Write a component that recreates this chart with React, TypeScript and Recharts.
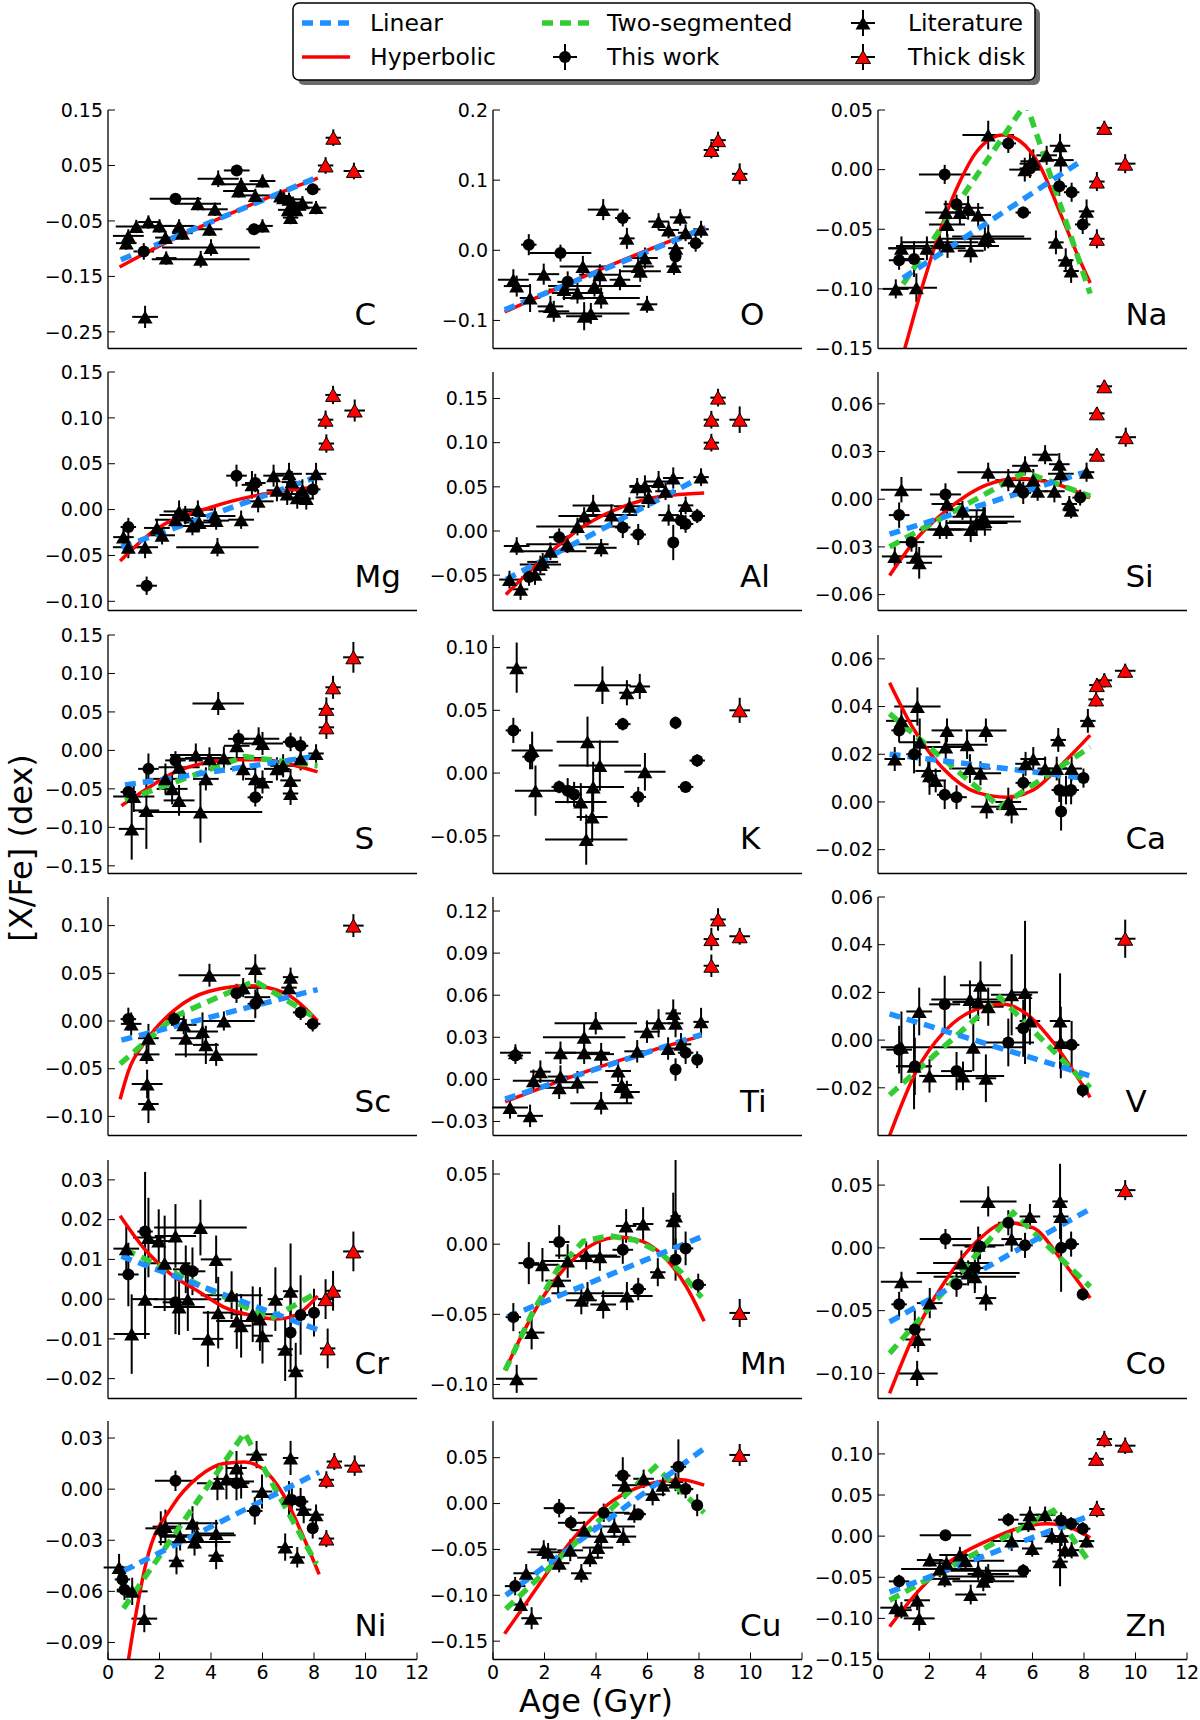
import React from "react";
import { ComposedChart, Scatter, Line, XAxis, YAxis, ErrorBar } from "recharts";

// [age, [X/Fe], age error, abundance error]
type Pt = [number, number, number, number];
type XY = [number, number];

const AGE_TICKS = [0, 2, 4, 6, 8, 10, 12];

// ---------- C ----------
const C_lit: Pt[] = [
  [1.44, -0.223, 0.5, 0.02], [4.28, 0.026, 0.8, 0.015], [5.17, 0.016, 0.8, 0.012], [5.07, 0.004, 0.6, 0.012],
  [6.0, 0.022, 0.5, 0.012], [5.72, -0.004, 0.6, 0.012], [3.49, -0.019, 0.9, 0.012], [4.15, -0.029, 0.5, 0.012],
  [2.0, -0.059, 0.5, 0.012], [1.57, -0.052, 0.4, 0.012], [0.79, -0.077, 0.6, 0.012], [0.71, -0.09, 0.4, 0.012],
  [2.76, -0.059, 0.6, 0.012], [2.89, -0.072, 0.4, 0.012], [2.23, -0.08, 0.4, 0.012], [3.94, -0.065, 0.5, 0.012],
  [4.0, -0.098, 1.9, 0.015], [3.6, -0.119, 1.9, 0.015], [2.26, -0.117, 0.4, 0.012], [6.0, -0.059, 0.4, 0.012],
  [7.03, -0.011, 0.5, 0.012], [7.2, -0.02, 0.4, 0.012], [7.55, -0.017, 0.4, 0.012], [7.09, -0.044, 0.3, 0.012],
  [8.08, -0.026, 0.4, 0.012], [6.82, -0.008, 0.4, 0.012], [6.7, -0.005, 0.4, 0.012], [7.3, -0.03, 0.4, 0.012],
  [7.0, -0.03, 0.4, 0.012], [1.1, -0.06, 0.8, 0.012],
];
const C_work: Pt[] = [[5.0, 0.041, 0.5, 0.01], [2.62, -0.01, 1.0, 0.01], [7.95, 0.007, 0.3, 0.01], [1.39, -0.105, 0.4, 0.015], [5.67, -0.065, 0.3, 0.01]];
const C_thick: Pt[] = [[8.75, 0.1, 0.3, 0.015], [8.45, 0.05, 0.3, 0.015], [9.55, 0.04, 0.4, 0.015]];
const C_lin: XY[] = [[0.5, -0.12], [8.15, 0.029]];
const C_hyp: XY[] = [[0.45, -0.133], [2, -0.095], [4, -0.052], [6, -0.012], [8.15, 0.027]];

// ---------- O ----------
const O_lit: Pt[] = [
  [4.28, 0.058, 0.6, 0.015], [6.43, 0.041, 0.4, 0.012], [7.27, 0.047, 0.4, 0.012], [5.2, 0.017, 0.3, 0.015],
  [8.08, 0.03, 0.3, 0.012], [7.48, 0.025, 0.3, 0.012], [6.82, 0.029, 0.4, 0.012], [7.1, 0.003, 0.3, 0.012],
  [7.03, -0.023, 0.3, 0.012], [5.9, -0.011, 0.5, 0.015], [5.64, -0.023, 0.6, 0.015], [5.72, -0.03, 0.8, 0.015],
  [3.49, -0.023, 0.9, 0.015], [4.15, -0.035, 0.8, 0.015], [4.93, -0.042, 0.4, 0.015], [1.97, -0.034, 0.6, 0.015],
  [0.79, -0.042, 0.6, 0.015], [0.92, -0.051, 0.5, 0.015], [1.44, -0.068, 0.4, 0.02], [2.76, -0.056, 0.6, 0.015],
  [3.28, -0.061, 1.0, 0.015], [2.36, -0.087, 0.6, 0.015], [3.54, -0.094, 0.7, 0.02], [4.2, -0.068, 1.5, 0.015],
  [3.94, -0.051, 1.8, 0.015], [5.98, -0.077, 0.4, 0.012], [2.23, -0.08, 0.5, 0.015], [3.8, -0.09, 1.5, 0.015],
];
const O_work: Pt[] = [[1.39, 0.008, 0.3, 0.015], [5.04, 0.046, 0.3, 0.012], [7.09, -0.009, 0.2, 0.012], [7.87, 0.01, 0.3, 0.012], [2.62, -0.004, 1.2, 0.012], [2.9, -0.045, 0.4, 0.015]];
const O_thick: Pt[] = [[8.48, 0.143, 0.3, 0.012], [8.74, 0.157, 0.3, 0.012], [9.58, 0.109, 0.3, 0.015]];
const O_lin: XY[] = [[0.45, -0.085], [8.25, 0.032]];
const O_hyp: XY[] = [[0.45, -0.088], [4, -0.03], [8.25, 0.033]];

// ---------- Na ----------
const Na_lit: Pt[] = [
  [0.69, -0.1, 0.5, 0.008], [0.91, -0.066, 0.5, 0.01], [1.49, -0.099, 0.8, 0.012], [4.28, 0.029, 1.0, 0.012],
  [2.68, -0.046, 0.7, 0.01], [2.63, -0.036, 0.8, 0.01], [3.18, -0.036, 0.6, 0.01], [3.5, -0.032, 0.6, 0.01],
  [3.89, -0.038, 0.5, 0.01], [3.6, -0.068, 0.5, 0.01], [4.15, -0.058, 1.8, 0.01], [4.28, -0.056, 1.4, 0.01],
  [5.7, 0.0, 0.6, 0.01], [6.03, 0.007, 0.5, 0.01], [6.55, 0.012, 0.4, 0.008], [7.07, 0.02, 0.4, 0.01],
  [7.1, 0.008, 0.5, 0.01], [6.91, -0.061, 0.3, 0.01], [7.29, -0.076, 0.3, 0.01], [7.5, -0.085, 0.3, 0.01],
  [8.1, -0.035, 0.3, 0.01], [2.4, -0.061, 1.5, 0.01], [1.9, -0.066, 1.5, 0.01], [2.7, -0.064, 2.0, 0.01],
  [5.9, 0.005, 0.4, 0.01],
];
const Na_work: Pt[] = [
  [2.59, -0.004, 1.0, 0.008], [0.82, -0.076, 0.4, 0.008], [1.4, -0.075, 0.4, 0.015], [5.06, 0.022, 0.3, 0.008],
  [5.64, -0.036, 0.3, 0.005], [7.52, -0.019, 0.3, 0.008], [7.95, -0.046, 0.3, 0.008], [3.05, -0.029, 0.5, 0.008],
  [5.9, 0.001, 0.4, 0.008], [7.04, -0.014, 0.3, 0.008],
];
const Na_thick: Pt[] = [[8.79, 0.035, 0.3, 0.006], [8.5, -0.01, 0.3, 0.008], [8.5, -0.058, 0.3, 0.008], [9.6, 0.005, 0.4, 0.008]];
const Na_lin: XY[] = [[0.97, -0.091], [7.95, 0.008]];
const Na_hyp: XY[] = [[0.5, -0.19], [1.04, -0.15], [1.75, -0.096], [2.53, -0.044], [3.18, -0.01], [3.83, 0.015], [4.86, 0.029], [5.51, 0.024], [6.29, 0.003], [7.07, -0.036], [7.72, -0.07], [8.24, -0.095]];
const Na_two: XY[] = [[0.97, -0.096], [5.75, 0.056], [8.24, -0.104]];

// ---------- Mg ----------
const Mg_lit: Pt[] = [
  [0.79, -0.041, 0.6, 0.012], [1.44, -0.041, 0.5, 0.012], [2.1, -0.028, 0.5, 0.01], [2.76, -0.002, 0.6, 0.012],
  [2.62, -0.011, 0.8, 0.01], [3.49, 0.0, 0.6, 0.01], [3.28, -0.018, 0.8, 0.01], [4.15, -0.007, 0.8, 0.01],
  [4.25, -0.041, 1.6, 0.01], [5.17, -0.011, 0.5, 0.01], [5.83, 0.009, 0.6, 0.012], [5.59, 0.027, 0.4, 0.015],
  [6.43, 0.037, 0.4, 0.012], [7.03, 0.039, 0.5, 0.012], [7.14, 0.03, 0.4, 0.012], [6.96, 0.017, 0.4, 0.012],
  [7.35, 0.013, 0.3, 0.012], [7.55, 0.021, 0.4, 0.012], [8.08, 0.039, 0.4, 0.012], [6.56, 0.021, 0.4, 0.012],
  [3.54, -0.014, 0.6, 0.01], [4.2, -0.012, 0.5, 0.01], [0.6, -0.03, 0.4, 0.01], [1.9, -0.02, 0.5, 0.01],
  [3.0, -0.006, 1.0, 0.01], [7.7, 0.012, 0.3, 0.012],
];
const Mg_work: Pt[] = [[4.99, 0.037, 0.4, 0.012], [0.79, -0.019, 0.3, 0.01], [5.72, 0.029, 0.4, 0.01], [7.95, 0.022, 0.3, 0.01], [1.5, -0.083, 0.4, 0.01]];
const Mg_thick: Pt[] = [[8.74, 0.125, 0.3, 0.01], [8.45, 0.098, 0.3, 0.01], [8.48, 0.072, 0.3, 0.01], [9.58, 0.108, 0.4, 0.012]];
const Mg_lin: XY[] = [[0.52, -0.041], [8.14, 0.036]];
const Mg_hyp: XY[] = [[0.47, -0.056], [1.84, -0.022], [3.94, 0.002], [6.04, 0.017], [8.14, 0.025]];

// ---------- Al ----------
const Al_lit: Pt[] = [
  [0.92, -0.017, 0.5, 0.01], [3.89, 0.029, 0.8, 0.012], [5.9, 0.051, 0.6, 0.012], [6.43, 0.056, 0.5, 0.012],
  [7.0, 0.06, 0.4, 0.012], [8.08, 0.061, 0.3, 0.01], [7.48, 0.029, 0.3, 0.01], [6.82, 0.018, 0.4, 0.012],
  [6.04, 0.038, 0.5, 0.012], [5.3, 0.028, 0.6, 0.01], [3.54, 0.017, 1.0, 0.01], [3.28, 0.005, 1.6, 0.01],
  [4.2, -0.019, 0.6, 0.01], [2.23, -0.023, 1.4, 0.01], [2.89, -0.015, 1.6, 0.01], [1.84, -0.038, 0.8, 0.01],
  [0.64, -0.055, 0.4, 0.01], [1.07, -0.066, 0.3, 0.012], [1.63, -0.049, 0.4, 0.012], [1.93, -0.035, 0.6, 0.01],
  [4.6, 0.018, 1.0, 0.012], [6.7, 0.045, 0.4, 0.01], [5.6, 0.05, 0.3, 0.01],
];
const Al_work: Pt[] = [[2.57, -0.007, 0.4, 0.01], [5.04, 0.004, 0.3, 0.012], [5.64, -0.004, 0.3, 0.012], [7.0, -0.013, 0.2, 0.02], [7.48, 0.008, 0.3, 0.01], [7.93, 0.017, 0.3, 0.008], [7.3, 0.012, 0.3, 0.01], [1.4, -0.052, 0.3, 0.01]];
const Al_thick: Pt[] = [[8.74, 0.151, 0.3, 0.01], [8.48, 0.126, 0.3, 0.01], [8.48, 0.1, 0.3, 0.01], [9.58, 0.126, 0.4, 0.015]];
const Al_lin: XY[] = [[0.5, -0.055], [8.15, 0.062]];
const Al_hyp: XY[] = [[0.5, -0.072], [2, -0.03], [3.5, 0.005], [5, 0.027], [6.5, 0.039], [8.2, 0.043]];

// ---------- Si ----------
const Si_lit: Pt[] = [
  [0.91, 0.006, 0.8, 0.008], [0.65, -0.036, 0.5, 0.006], [1.49, -0.036, 1.0, 0.008], [1.6, -0.04, 0.5, 0.01],
  [4.28, 0.017, 1.2, 0.006], [6.49, 0.028, 0.5, 0.006], [5.71, 0.021, 0.5, 0.006], [6.03, 0.012, 0.5, 0.007],
  [7.04, 0.022, 0.4, 0.007], [7.1, 0.016, 0.5, 0.008], [6.85, 0.005, 0.4, 0.007], [7.43, -0.003, 0.3, 0.005],
  [7.5, -0.007, 0.3, 0.005], [8.1, 0.017, 0.3, 0.006], [5.06, 0.012, 0.5, 0.007], [2.66, -0.019, 0.7, 0.006],
  [2.4, -0.019, 0.8, 0.006], [3.6, -0.019, 0.8, 0.008], [4.09, -0.011, 1.2, 0.008], [4.15, -0.014, 1.4, 0.009],
  [3.83, -0.015, 1.2, 0.008], [3.28, -0.007, 0.8, 0.006], [2.68, -0.003, 0.6, 0.007], [5.5, 0.008, 0.5, 0.006],
  [6.2, 0.005, 0.4, 0.006],
];
const Si_work: Pt[] = [[0.82, -0.01, 0.4, 0.008], [2.62, 0.003, 0.6, 0.007], [5.64, 0.004, 0.3, 0.007], [7.85, 0.001, 0.3, 0.005], [1.3, -0.027, 0.5, 0.006]];
const Si_thick: Pt[] = [[8.79, 0.071, 0.3, 0.004], [8.5, 0.054, 0.3, 0.004], [8.5, 0.028, 0.3, 0.004], [9.62, 0.039, 0.4, 0.006]];
const Si_lin: XY[] = [[0.45, -0.022], [8.24, 0.018]];
const Si_hyp: XY[] = [[0.45, -0.048], [1.49, -0.025], [2.66, -0.007], [4.22, 0.009], [5.51, 0.013], [6.81, 0.01], [8.24, 0.001]];
const Si_two: XY[] = [[0.45, -0.03], [5.7, 0.017], [8.24, 0.002]];

// ---------- S ----------
const S_lit: Pt[] = [
  [4.28, 0.061, 1.0, 0.015], [5.85, 0.015, 0.8, 0.015], [6.0, 0.009, 0.8, 0.015], [5.0, 0.006, 0.5, 0.015],
  [3.41, -0.006, 1.0, 0.015], [3.94, -0.011, 1.4, 0.015], [2.76, -0.022, 0.8, 0.015], [2.23, -0.037, 0.6, 0.02],
  [2.49, -0.05, 0.6, 0.02], [2.76, -0.065, 0.6, 0.02], [3.8, -0.037, 0.5, 0.015], [5.25, -0.024, 0.5, 0.015],
  [5.72, -0.037, 0.4, 0.015], [6.0, -0.041, 0.4, 0.015], [6.56, -0.024, 0.5, 0.015], [7.09, -0.039, 0.4, 0.015],
  [7.09, -0.056, 0.3, 0.015], [7.48, -0.011, 0.5, 0.015], [8.08, -0.004, 0.3, 0.012], [0.92, -0.102, 0.5, 0.04],
  [1.49, -0.078, 0.5, 0.05], [3.59, -0.08, 2.4, 0.04], [1.0, -0.06, 0.8, 0.02], [4.5, -0.01, 1.5, 0.015],
  [6.8, -0.02, 0.5, 0.015],
];
const S_work: Pt[] = [[0.79, -0.054, 0.3, 0.012], [1.57, -0.024, 0.4, 0.02], [2.62, -0.013, 0.4, 0.012], [5.07, 0.015, 0.4, 0.012], [5.72, -0.061, 0.3, 0.012], [7.09, 0.011, 0.3, 0.012], [7.48, 0.006, 0.3, 0.012]];
const S_thick: Pt[] = [[9.53, 0.121, 0.4, 0.02], [8.74, 0.082, 0.3, 0.015], [8.48, 0.054, 0.3, 0.015], [8.48, 0.03, 0.3, 0.015]];
const S_lin: XY[] = [[0.66, -0.045], [8.0, -0.008]];
const S_hyp: XY[] = [[0.52, -0.072], [1.5, -0.05], [2.62, -0.028], [3.8, -0.016], [5, -0.012], [6, -0.012], [6.82, -0.016], [8.14, -0.028]];
const S_two: XY[] = [[0.66, -0.065], [5.3, -0.008], [8.14, -0.02]];

// ---------- K ----------
const K_lit: Pt[] = [
  [0.92, 0.084, 0.4, 0.02], [4.25, 0.07, 1.1, 0.015], [5.2, 0.064, 0.3, 0.01], [5.7, 0.069, 0.4, 0.01],
  [1.52, 0.018, 0.8, 0.015], [3.67, 0.025, 1.2, 0.02], [4.15, 0.006, 1.6, 0.02], [5.9, 0.001, 0.8, 0.015],
  [1.65, -0.014, 0.8, 0.02], [3.89, -0.011, 1.2, 0.02], [3.41, -0.023, 1.0, 0.015], [3.62, -0.053, 1.6, 0.02],
  [3.85, -0.035, 0.6, 0.02],
];
const K_work: Pt[] = [
  [0.79, 0.034, 0.3, 0.01], [1.44, 0.013, 0.3, 0.01], [5.04, 0.039, 0.3, 0.005], [7.09, 0.04, 0.2, 0.005],
  [7.93, 0.01, 0.3, 0.005], [7.48, -0.011, 0.3, 0.004], [2.57, -0.011, 0.3, 0.005], [3.15, -0.017, 0.3, 0.01],
  [5.64, -0.019, 0.3, 0.008], [2.9, -0.014, 0.4, 0.01],
];
const K_thick: Pt[] = [[9.58, 0.05, 0.4, 0.01]];

// ---------- Ca ----------
const Ca_lit: Pt[] = [
  [0.65, 0.018, 0.4, 0.005], [0.91, 0.034, 0.6, 0.005], [1.53, 0.04, 0.9, 0.008], [1.62, 0.025, 0.8, 0.01],
  [1.95, 0.013, 0.5, 0.005], [2.24, 0.009, 0.4, 0.005], [2.68, 0.03, 0.6, 0.005], [2.63, 0.023, 0.8, 0.005],
  [3.46, 0.024, 0.8, 0.006], [3.57, 0.014, 0.8, 0.006], [4.19, 0.03, 0.8, 0.005], [3.98, 0.012, 0.8, 0.005],
  [4.22, -0.002, 0.6, 0.005], [5.19, -0.003, 0.6, 0.006], [5.73, 0.016, 0.4, 0.005], [6.03, 0.018, 0.5, 0.005],
  [6.49, 0.014, 0.3, 0.005], [7.0, 0.026, 0.3, 0.005], [6.94, 0.014, 0.4, 0.005], [7.52, 0.014, 0.4, 0.005],
  [8.15, 0.034, 0.3, 0.005], [5.06, 0.0, 0.5, 0.006], [2.0, 0.011, 0.3, 0.008], [7.3, 0.005, 0.3, 0.006],
];
const Ca_work: Pt[] = [
  [0.82, 0.03, 0.3, 0.005], [1.4, 0.02, 0.3, 0.008], [2.59, 0.003, 0.3, 0.006], [3.05, 0.002, 0.4, 0.005],
  [5.64, 0.008, 0.3, 0.004], [7.11, -0.004, 0.2, 0.008], [7.5, 0.005, 0.3, 0.006], [7.98, 0.01, 0.2, 0.004],
  [7.04, 0.005, 0.3, 0.005],
];
const Ca_thick: Pt[] = [[9.6, 0.055, 0.4, 0.003], [8.79, 0.051, 0.3, 0.003], [8.5, 0.049, 0.3, 0.003], [8.47, 0.043, 0.3, 0.003]];
const Ca_lin: XY[] = [[0.45, 0.02], [7.98, 0.01]];
const Ca_hyp: XY[] = [[0.45, 0.05], [1.36, 0.031], [2.53, 0.014], [3.83, 0.004], [5.0, 0.002], [6.03, 0.005], [7.07, 0.015], [8.24, 0.028]];
const Ca_two: XY[] = [[0.45, 0.037], [4.73, -0.002], [8.24, 0.023]];

// ---------- Sc ----------
const Sc_lit: Pt[] = [
  [3.94, 0.048, 1.2, 0.012], [5.72, 0.055, 0.4, 0.015], [7.09, 0.046, 0.3, 0.01], [7.03, 0.035, 0.3, 0.01],
  [5.25, 0.035, 0.8, 0.01], [3.67, -0.011, 0.6, 0.02], [2.94, -0.004, 0.5, 0.01], [3.02, -0.018, 0.6, 0.02],
  [3.8, -0.025, 0.5, 0.02], [1.57, -0.018, 0.4, 0.015], [1.5, -0.035, 0.5, 0.01], [1.52, -0.066, 0.6, 0.015],
  [1.57, -0.087, 0.4, 0.02], [4.2, -0.035, 1.6, 0.012], [0.9, -0.003, 0.4, 0.012], [4.5, 0.0, 1.2, 0.01],
  [5.8, 0.025, 0.5, 0.01],
];
const Sc_work: Pt[] = [[0.79, 0.002, 0.3, 0.012], [2.57, 0.002, 0.4, 0.008], [4.99, 0.029, 0.4, 0.01], [5.72, 0.018, 0.3, 0.015], [7.48, 0.009, 0.3, 0.008], [7.95, -0.003, 0.3, 0.008]];
const Sc_thick: Pt[] = [[9.53, 0.1, 0.4, 0.012]];
const Sc_lin: XY[] = [[0.52, -0.02], [8.14, 0.033]];
const Sc_hyp: XY[] = [[0.47, -0.082], [0.8, -0.052], [1.5, -0.02], [2.6, 0.012], [3.9, 0.031], [5.5, 0.037], [6.8, 0.03], [8.14, 0.0]];
const Sc_two: XY[] = [[0.47, -0.045], [2.6, 0.005], [5.7, 0.042], [8.14, 0.002]];

// ---------- Ti ----------
const Ti_lit: Pt[] = [
  [3.99, 0.04, 1.6, 0.008], [3.54, 0.03, 1.6, 0.01], [5.98, 0.034, 0.5, 0.008], [6.43, 0.04, 0.5, 0.01],
  [7.0, 0.047, 0.3, 0.01], [7.09, 0.04, 0.3, 0.01], [8.08, 0.041, 0.3, 0.01], [0.87, 0.019, 0.6, 0.006],
  [2.62, 0.019, 0.6, 0.008], [3.54, 0.019, 1.0, 0.008], [4.2, 0.018, 0.5, 0.008], [1.84, 0.0055, 0.4, 0.008],
  [1.57, -0.001, 0.8, 0.008], [2.62, 0.002, 0.5, 0.008], [3.28, -0.002, 0.8, 0.008], [2.57, -0.006, 0.6, 0.008],
  [5.0, -0.004, 0.4, 0.008], [5.2, -0.009, 0.5, 0.008], [4.2, -0.017, 1.2, 0.008], [0.66, -0.02, 0.7, 0.008],
  [1.44, -0.026, 0.5, 0.008], [4.86, 0.006, 0.5, 0.008], [6.8, 0.022, 0.5, 0.008], [7.3, 0.025, 0.4, 0.008],
  [5.6, 0.02, 0.5, 0.008],
];
const Ti_work: Pt[] = [[7.09, 0.007, 0.2, 0.008], [7.93, 0.014, 0.2, 0.006], [0.87, 0.017, 0.3, 0.006], [7.48, 0.019, 0.3, 0.008]];
const Ti_thick: Pt[] = [[8.74, 0.114, 0.3, 0.008], [8.48, 0.1, 0.3, 0.008], [8.48, 0.081, 0.3, 0.008], [9.58, 0.102, 0.4, 0.006]];
const Ti_lin: XY[] = [[0.47, -0.014], [8.1, 0.032]];
const Ti_hyp: XY[] = [[0.47, -0.016], [4, 0.008], [8.1, 0.031]];

// ---------- V ----------
const V_lit: Pt[] = [
  [0.91, -0.003, 0.8, 0.015], [1.6, 0.012, 0.5, 0.01], [2.0, -0.015, 0.4, 0.007], [3.57, 0.017, 1.5, 0.008],
  [3.98, 0.023, 0.8, 0.01], [3.89, 0.016, 1.0, 0.008], [4.28, 0.014, 0.6, 0.008], [5.19, 0.019, 0.8, 0.017],
  [5.71, 0.02, 0.5, 0.03], [5.9, 0.008, 0.4, 0.01], [7.07, 0.008, 0.4, 0.02], [7.1, -0.001, 0.3, 0.015],
  [3.7, -0.003, 2.0, 0.01], [4.19, -0.016, 0.4, 0.01], [3.3, -0.015, 1.6, 0.006], [1.4, -0.011, 0.7, 0.018],
];
const V_work: Pt[] = [[0.82, -0.004, 0.5, 0.01], [1.43, -0.011, 0.5, 0.012], [2.59, 0.015, 0.6, 0.012], [3.05, -0.013, 0.6, 0.008], [5.06, -0.001, 1.0, 0.01], [5.64, 0.005, 0.3, 0.012], [7.52, -0.002, 0.3, 0.01], [7.95, -0.021, 0.2, 0.003]];
const V_thick: Pt[] = [[9.6, 0.0425, 0.4, 0.008]];
const V_lin: XY[] = [[0.45, 0.011], [8.24, -0.015]];
const V_hyp: XY[] = [[0.45, -0.04], [1.49, -0.013], [2.53, 0.003], [3.83, 0.013], [4.86, 0.015], [5.77, 0.011], [6.81, -0.001], [8.24, -0.024]];
const V_two: XY[] = [[0.45, -0.023], [4.73, 0.018], [8.24, -0.02]];

// ---------- Cr ----------
const Cr_lit: Pt[] = [
  [0.71, 0.0127, 0.5, 0.006], [1.57, 0.0155, 0.6, 0.01], [1.97, 0.0146, 0.6, 0.008], [2.62, 0.0159, 0.8, 0.008],
  [3.59, 0.018, 1.8, 0.007], [4.2, 0.01, 0.6, 0.006], [1.44, 0.0, 0.5, 0.01], [2.76, -0.002, 1.0, 0.007],
  [0.92, -0.0088, 0.7, 0.01], [3.88, -0.01, 0.6, 0.007], [4.28, -0.0034, 0.6, 0.009], [5.0, -0.0055, 0.8, 0.007],
  [5.17, -0.0067, 0.4, 0.008], [5.9, -0.005, 0.5, 0.008], [6.0, -0.0092, 0.4, 0.007], [6.5, 0.0, 0.3, 0.008],
  [7.09, 0.002, 0.3, 0.012], [6.88, -0.0126, 0.3, 0.008], [7.29, -0.018, 0.3, 0.007], [5.62, -0.0038, 0.8, 0.007],
  [2.2, 0.009, 1.0, 0.012], [3.1, 0.0, 1.3, 0.008], [4.8, 0.001, 1.2, 0.006],
];
const Cr_work: Pt[] = [[1.44, 0.017, 0.3, 0.015], [0.79, 0.0062, 0.4, 0.008], [3.02, 0.0075, 0.5, 0.006], [3.28, 0.007, 0.5, 0.006], [2.62, -0.0008, 0.5, 0.008], [7.09, -0.0084, 0.2, 0.01], [7.48, -0.004, 0.3, 0.01], [8.0, -0.0034, 0.2, 0.006]];
const Cr_thick: Pt[] = [[9.53, 0.012, 0.4, 0.005], [8.53, -0.0124, 0.3, 0.005], [8.74, 0.0021, 0.3, 0.005], [8.45, 0.0, 0.3, 0.005]];
const Cr_lin: XY[] = [[0.52, 0.0108], [8.14, -0.0077]];
const Cr_hyp: XY[] = [[0.47, 0.021], [1.5, 0.012], [2.5, 0.006], [3.5, 0.002], [4.5, -0.002], [5.5, -0.004], [6.5, -0.005], [7.3, -0.004], [8.14, 0.0008]];
const Cr_two: XY[] = [[0.66, 0.0125], [6.3, -0.005], [8.14, 0.0017]];

// ---------- Mn ----------
const Mn_lit: Pt[] = [
  [1.92, -0.0147, 0.6, 0.012], [3.62, -0.008, 1.2, 0.01], [4.15, -0.009, 0.8, 0.01], [5.17, 0.013, 0.4, 0.012],
  [5.83, 0.0144, 0.4, 0.012], [7.09, 0.02, 0.2, 0.04], [7.0, 0.0167, 0.3, 0.02], [1.5, -0.063, 0.5, 0.012],
  [0.92, -0.096, 0.8, 0.01], [3.67, -0.035, 1.4, 0.008], [4.28, -0.043, 0.5, 0.01], [2.53, -0.026, 0.5, 0.012],
  [3.43, -0.04, 0.6, 0.01], [5.2, -0.037, 1.0, 0.01], [6.4, -0.02, 0.3, 0.01], [2.9, -0.012, 1.0, 0.012],
];
const Mn_work: Pt[] = [[1.39, -0.0135, 0.4, 0.015], [2.57, 0.0016, 0.4, 0.012], [7.48, -0.003, 0.3, 0.012], [7.09, -0.011, 0.2, 0.015], [5.04, -0.004, 0.4, 0.01], [0.79, -0.052, 0.3, 0.01], [5.64, -0.032, 0.3, 0.008], [7.97, -0.029, 0.3, 0.008]];
const Mn_thick: Pt[] = [[9.58, -0.049, 0.4, 0.01]];
const Mn_lin: XY[] = [[0.55, -0.052], [8.2, 0.006]];
const Mn_hyp: XY[] = [[0.47, -0.09], [1.2, -0.062], [2, -0.036], [3, -0.013], [4, 0.001], [4.9, 0.005], [5.8, 0.002], [6.7, -0.01], [7.5, -0.03], [8.2, -0.055]];
const Mn_two: XY[] = [[0.47, -0.09], [1.5, -0.05], [2.5, -0.018], [3.5, 0.002], [4.5, 0.006], [5.5, 0.003], [6.5, -0.006], [7.3, -0.02], [8.1, -0.038]];

// ---------- Co ----------
const Co_lit: Pt[] = [
  [0.91, -0.027, 0.8, 0.008], [1.56, -0.073, 0.5, 0.01], [1.52, -0.1, 0.8, 0.01], [2.01, -0.044, 0.5, 0.012],
  [3.24, -0.012, 1.1, 0.01], [3.76, -0.023, 1.6, 0.01], [3.89, 0.002, 1.0, 0.015], [4.28, 0.037, 1.1, 0.012],
  [5.19, 0.007, 0.4, 0.01], [5.9, 0.025, 0.4, 0.01], [7.07, 0.037, 0.3, 0.03], [7.1, 0.025, 0.3, 0.015],
  [4.19, -0.04, 0.4, 0.01], [3.5, -0.02, 2.0, 0.01],
];
const Co_work: Pt[] = [
  [0.82, -0.045, 0.3, 0.01], [1.43, -0.065, 0.4, 0.015], [2.62, 0.007, 1.0, 0.008], [3.05, -0.029, 0.4, 0.01],
  [3.76, -0.016, 0.4, 0.02], [5.06, 0.02, 0.4, 0.01], [5.71, 0.002, 0.3, 0.01], [7.11, 0.0, 0.2, 0.035],
  [7.5, 0.003, 0.3, 0.01], [7.95, -0.037, 0.2, 0.005], [3.96, 0.001, 0.6, 0.01],
];
const Co_thick: Pt[] = [[9.6, 0.046, 0.4, 0.008]];
const Co_lin: XY[] = [[0.45, -0.059], [8.24, 0.031]];
const Co_hyp: XY[] = [[0.45, -0.116], [1.36, -0.071], [2.53, -0.029], [3.83, 0.005], [5.0, 0.02], [6.03, 0.016], [7.07, -0.008], [8.24, -0.04]];
const Co_two: XY[] = [[0.45, -0.084], [5.25, 0.028], [8.24, -0.031]];

// ---------- Ni ----------
const Ni_lit: Pt[] = [
  [4.25, 0.0035, 0.8, 0.01], [4.99, 0.0124, 0.4, 0.01], [5.17, 0.0045, 0.5, 0.01], [5.77, 0.0203, 0.4, 0.008],
  [5.98, -0.0014, 0.4, 0.01], [7.09, 0.0183, 0.3, 0.01], [7.03, -0.0053, 0.3, 0.01], [8.08, -0.015, 0.3, 0.006],
  [6.88, -0.034, 0.3, 0.008], [7.35, -0.04, 0.3, 0.006], [2.05, -0.023, 0.6, 0.01], [2.23, -0.022, 0.5, 0.01],
  [3.28, -0.02, 1.0, 0.01], [3.46, -0.027, 1.5, 0.008], [3.36, -0.031, 1.4, 0.008], [4.2, -0.026, 0.7, 0.008],
  [4.2, -0.039, 0.3, 0.008], [0.94, -0.06, 0.6, 0.008], [1.41, -0.076, 0.5, 0.008], [2.66, -0.042, 0.3, 0.008],
  [0.43, -0.046, 0.6, 0.008], [2.8, -0.028, 0.8, 0.008], [4.6, 0.006, 0.5, 0.012], [7.6, -0.012, 0.3, 0.008],
];
const Ni_work: Pt[] = [[2.62, 0.0049, 0.8, 0.006], [4.99, 0.0035, 0.5, 0.01], [5.7, -0.0128, 0.3, 0.008], [7.14, -0.0063, 0.3, 0.01], [7.48, -0.0073, 0.3, 0.008], [7.95, -0.023, 0.2, 0.006], [0.56, -0.053, 0.3, 0.008], [0.64, -0.059, 0.3, 0.006]];
const Ni_thick: Pt[] = [[8.79, 0.0162, 0.3, 0.005], [8.48, 0.0055, 0.3, 0.005], [8.48, -0.029, 0.3, 0.005], [9.58, 0.0138, 0.4, 0.006]];
const Ni_lin: XY[] = [[0.6, -0.048], [8.2, 0.01]];
const Ni_hyp: XY[] = [[0.6, -0.12], [0.9, -0.09], [1.5, -0.042], [2.5, -0.01], [3.5, 0.007], [4.5, 0.015], [5.3, 0.016], [6, 0.012], [6.8, -0.003], [7.5, -0.025], [8.2, -0.05]];
const Ni_two: XY[] = [[0.6, -0.07], [5.3, 0.033], [8.1, -0.044]];

// ---------- Cu ----------
const Cu_lit: Pt[] = [
  [5.12, 0.02, 0.5, 0.015], [5.85, 0.027, 0.4, 0.01], [7.09, 0.0235, 0.3, 0.01], [4.2, -0.036, 0.6, 0.012],
  [3.54, -0.029, 0.5, 0.01], [1.97, -0.05, 0.5, 0.01], [1.29, -0.076, 0.5, 0.01], [1.5, -0.125, 0.4, 0.012],
  [1.07, -0.11, 0.3, 0.01], [2.14, -0.053, 0.8, 0.01], [2.57, -0.065, 0.4, 0.01], [3.0, -0.051, 0.5, 0.012],
  [3.43, -0.076, 0.4, 0.01], [3.77, -0.059, 0.5, 0.01], [4.07, -0.048, 0.6, 0.012], [4.71, -0.025, 0.8, 0.012],
  [5.06, -0.036, 0.5, 0.01], [5.49, -0.011, 0.4, 0.01], [6.2, 0.01, 0.5, 0.012], [6.6, 0.02, 0.4, 0.012],
];
const Cu_work: Pt[] = [[5.04, 0.0305, 0.3, 0.02], [5.64, -0.0116, 0.3, 0.006], [2.57, -0.005, 0.6, 0.01], [3.02, -0.021, 0.5, 0.008], [7.48, 0.0158, 0.3, 0.01], [7.93, -0.0018, 0.2, 0.012], [0.86, -0.09, 0.4, 0.01], [4.3, -0.01, 1.0, 0.01], [7.2, 0.04, 0.3, 0.03]];
const Cu_thick: Pt[] = [[9.58, 0.053, 0.4, 0.012]];
const Cu_lin: XY[] = [[0.5, -0.1], [8.2, 0.06]];
const Cu_hyp: XY[] = [[0.45, -0.142], [1.5, -0.1], [2.5, -0.06], [3.5, -0.026], [4.5, 0.0], [5.5, 0.016], [6.5, 0.024], [7.3, 0.026], [8.2, 0.02]];
const Cu_two: XY[] = [[0.5, -0.115], [6.3, 0.04], [8.2, -0.01]];

// ---------- Zn ----------
const Zn_lit: Pt[] = [
  [0.69, -0.087, 0.6, 0.01], [0.91, -0.09, 0.4, 0.01], [1.6, -0.1, 0.6, 0.015], [1.52, -0.078, 0.5, 0.012],
  [2.01, -0.029, 0.5, 0.008], [2.59, -0.052, 0.6, 0.01], [2.66, -0.033, 0.6, 0.01], [3.18, -0.023, 0.8, 0.01],
  [3.6, -0.071, 0.6, 0.012], [3.89, -0.042, 1.5, 0.012], [4.09, -0.055, 1.2, 0.012], [4.19, -0.049, 1.6, 0.012],
  [4.28, -0.046, 0.8, 0.012], [5.19, -0.006, 0.8, 0.012], [5.9, 0.026, 0.4, 0.01], [5.99, -0.015, 0.4, 0.01],
  [6.49, 0.026, 0.4, 0.01], [6.75, 0.0, 0.4, 0.01], [7.07, -0.031, 0.3, 0.03], [7.13, 0.0, 0.3, 0.012],
  [7.26, -0.017, 0.3, 0.01], [7.52, -0.017, 0.3, 0.01], [8.1, -0.006, 0.3, 0.008], [5.84, 0.015, 0.4, 0.01],
  [2.4, -0.04, 1.5, 0.01], [3.4, -0.03, 1.5, 0.01],
];
const Zn_work: Pt[] = [[0.82, -0.055, 0.4, 0.008], [2.62, 0.001, 1.0, 0.006], [5.06, 0.02, 0.4, 0.008], [5.64, -0.042, 0.3, 0.008], [7.11, 0.019, 0.3, 0.01], [7.95, 0.009, 0.3, 0.008], [7.5, 0.015, 0.3, 0.008]];
const Zn_thick: Pt[] = [[8.79, 0.118, 0.3, 0.01], [8.47, 0.094, 0.3, 0.008], [9.6, 0.11, 0.4, 0.01], [8.5, 0.033, 0.3, 0.01]];
const Zn_lin: XY[] = [[0.45, -0.068], [8.24, 0.025]];
const Zn_hyp: XY[] = [[0.45, -0.11], [1.62, -0.065], [2.92, -0.028], [4.22, -0.006], [5.51, 0.01], [6.55, 0.015], [7.59, 0.009], [8.24, -0.002]];
const Zn_two: XY[] = [[0.45, -0.078], [6.81, 0.031], [8.24, -0.033]];

type PanelDef = {
  name: string;
  lit: Pt[]; work: Pt[]; thick: Pt[];
  lin?: XY[]; hyp?: XY[]; two?: XY[];
  domain: [number, number]; ticks: number[]; dec: number;
};

const panels: PanelDef[] = [
  { name: "C", lit: C_lit, work: C_work, thick: C_thick, lin: C_lin, hyp: C_hyp, domain: [-0.28, 0.15], ticks: [-0.25, -0.15, -0.05, 0.05, 0.15], dec: 2 },
  { name: "O", lit: O_lit, work: O_work, thick: O_thick, lin: O_lin, hyp: O_hyp, domain: [-0.14, 0.2], ticks: [-0.1, 0, 0.1, 0.2], dec: 1 },
  { name: "Na", lit: Na_lit, work: Na_work, thick: Na_thick, lin: Na_lin, hyp: Na_hyp, two: Na_two, domain: [-0.15, 0.05], ticks: [-0.15, -0.1, -0.05, 0, 0.05], dec: 2 },
  { name: "Mg", lit: Mg_lit, work: Mg_work, thick: Mg_thick, lin: Mg_lin, hyp: Mg_hyp, domain: [-0.11, 0.15], ticks: [-0.1, -0.05, 0, 0.05, 0.1, 0.15], dec: 2 },
  { name: "Al", lit: Al_lit, work: Al_work, thick: Al_thick, lin: Al_lin, hyp: Al_hyp, domain: [-0.09, 0.18], ticks: [-0.05, 0, 0.05, 0.1, 0.15], dec: 2 },
  { name: "Si", lit: Si_lit, work: Si_work, thick: Si_thick, lin: Si_lin, hyp: Si_hyp, two: Si_two, domain: [-0.07, 0.08], ticks: [-0.06, -0.03, 0, 0.03, 0.06], dec: 2 },
  { name: "S", lit: S_lit, work: S_work, thick: S_thick, lin: S_lin, hyp: S_hyp, two: S_two, domain: [-0.16, 0.15], ticks: [-0.15, -0.1, -0.05, 0, 0.05, 0.1, 0.15], dec: 2 },
  { name: "K", lit: K_lit, work: K_work, thick: K_thick, domain: [-0.08, 0.11], ticks: [-0.05, 0, 0.05, 0.1], dec: 2 },
  { name: "Ca", lit: Ca_lit, work: Ca_work, thick: Ca_thick, lin: Ca_lin, hyp: Ca_hyp, two: Ca_two, domain: [-0.03, 0.07], ticks: [-0.02, 0, 0.02, 0.04, 0.06], dec: 2 },
  { name: "Sc", lit: Sc_lit, work: Sc_work, thick: Sc_thick, lin: Sc_lin, hyp: Sc_hyp, two: Sc_two, domain: [-0.12, 0.13], ticks: [-0.1, -0.05, 0, 0.05, 0.1], dec: 2 },
  { name: "Ti", lit: Ti_lit, work: Ti_work, thick: Ti_thick, lin: Ti_lin, hyp: Ti_hyp, domain: [-0.04, 0.13], ticks: [-0.03, 0, 0.03, 0.06, 0.09, 0.12], dec: 2 },
  { name: "V", lit: V_lit, work: V_work, thick: V_thick, lin: V_lin, hyp: V_hyp, two: V_two, domain: [-0.04, 0.06], ticks: [-0.02, 0, 0.02, 0.04, 0.06], dec: 2 },
  { name: "Cr", lit: Cr_lit, work: Cr_work, thick: Cr_thick, lin: Cr_lin, hyp: Cr_hyp, two: Cr_two, domain: [-0.025, 0.035], ticks: [-0.02, -0.01, 0, 0.01, 0.02, 0.03], dec: 2 },
  { name: "Mn", lit: Mn_lit, work: Mn_work, thick: Mn_thick, lin: Mn_lin, hyp: Mn_hyp, two: Mn_two, domain: [-0.11, 0.06], ticks: [-0.1, -0.05, 0, 0.05], dec: 2 },
  { name: "Co", lit: Co_lit, work: Co_work, thick: Co_thick, lin: Co_lin, hyp: Co_hyp, two: Co_two, domain: [-0.12, 0.07], ticks: [-0.1, -0.05, 0, 0.05], dec: 2 },
  { name: "Ni", lit: Ni_lit, work: Ni_work, thick: Ni_thick, lin: Ni_lin, hyp: Ni_hyp, two: Ni_two, domain: [-0.1, 0.04], ticks: [-0.09, -0.06, -0.03, 0, 0.03], dec: 2 },
  { name: "Cu", lit: Cu_lit, work: Cu_work, thick: Cu_thick, lin: Cu_lin, hyp: Cu_hyp, two: Cu_two, domain: [-0.17, 0.09], ticks: [-0.15, -0.1, -0.05, 0, 0.05], dec: 2 },
  { name: "Zn", lit: Zn_lit, work: Zn_work, thick: Zn_thick, lin: Zn_lin, hyp: Zn_hyp, two: Zn_two, domain: [-0.15, 0.14], ticks: [-0.15, -0.1, -0.05, 0, 0.05, 0.1], dec: 2 },
];

// layout (page pixels)
const COL_X = [107.6, 493, 878.4];
const ROW_Y = [110, 372.3, 634.7, 897.3, 1159.7, 1421];
const PW = 309;
const PH = 238.5;
const YW = 72;
const XH = 32;
const MT = 14;
const MR = 16;
const MB = 6;

const FONT = "'DejaVu Sans', Verdana, sans-serif";
const BLUE = "#1e90ff";
const GREEN = "#32cd32";
const RED = "#ff0000";
const AXIS = { stroke: "#000", strokeWidth: 1.3 };
const TICKLINE = { stroke: "#000", strokeWidth: 1 };
const EB = 2;
const TW = 7.5; // triangle half-width
const TH = 6.5; // triangle half-height

const toPts = (a: Pt[]) => a.map(([x, y, ex, ey]) => ({ x, y, ex, ey }));
const toLine = (a: XY[]) => a.map(([x, y]) => ({ x, y }));
const fmt = (dec: number) => (v: number) => (v < -1e-9 ? "\u2212" : "") + Math.abs(v).toFixed(dec);
const triPoints = (cx: number, cy: number) =>
  `${cx},${cy - TH} ${cx - TW},${cy + TH} ${cx + TW},${cy + TH}`;

const triangle = (fill: string, edge: number) => (p: any) => {
  const { cx, cy } = p;
  if (cx == null || cy == null) return <g />;
  return <polygon points={triPoints(cx, cy)} fill={fill} stroke="#000" strokeWidth={edge} />;
};
const litShape = triangle("#000", 0);
const thickShape = triangle(RED, 1);
const workShape = (p: any) => <circle cx={p.cx} cy={p.cy} r={6} fill="#000" />;

function Panel({ p, idx }: { p: PanelDef; idx: number }) {
  const col = idx % 3;
  const row = Math.floor(idx / 3);
  const bottomRow = row === 5;
  const tickFont = { fontFamily: FONT, fontSize: 19, fill: "#000" };
  const series = [
    { key: "lit", data: p.lit, shape: litShape },
    { key: "work", data: p.work, shape: workShape },
    { key: "thick", data: p.thick, shape: thickShape },
  ];
  return (
    <div style={{ position: "absolute", left: COL_X[col] - YW, top: ROW_Y[row] - MT }}>
      <ComposedChart
        width={YW + PW + MR}
        height={MT + PH + XH + MB}
        margin={{ top: MT, right: MR, bottom: MB, left: 0 }}
      >
        <XAxis
          xAxisId="b"
          dataKey="x"
          type="number"
          domain={[0, 12]}
          ticks={AGE_TICKS}
          allowDataOverflow
          height={XH}
          tickSize={-7}
          tickMargin={13}
          tick={bottomRow ? tickFont : false}
          axisLine={AXIS}
          tickLine={TICKLINE}
          interval={0}
        />
        <XAxis
          xAxisId="t"
          orientation="top"
          type="number"
          domain={[0, 12]}
          ticks={AGE_TICKS}
          allowDataOverflow
          height={0}
          tickSize={-7}
          tick={false}
          axisLine={AXIS}
          tickLine={TICKLINE}
          interval={0}
        />
        <YAxis
          yAxisId="l"
          dataKey="y"
          type="number"
          domain={p.domain}
          ticks={p.ticks}
          allowDataOverflow
          width={YW}
          tickSize={-7}
          tickMargin={12}
          tick={tickFont}
          tickFormatter={fmt(p.dec)}
          axisLine={AXIS}
          tickLine={TICKLINE}
          interval={0}
        />
        <YAxis
          yAxisId="r"
          orientation="right"
          type="number"
          domain={p.domain}
          ticks={p.ticks}
          allowDataOverflow
          width={0}
          tickSize={-7}
          tick={false}
          axisLine={AXIS}
          tickLine={TICKLINE}
          interval={0}
        />
        {series.map((s) => (
          <Scatter
            key={s.key}
            xAxisId="b"
            yAxisId="l"
            data={toPts(s.data)}
            shape={s.shape}
            isAnimationActive={false}
          >
            <ErrorBar dataKey="ex" direction="x" width={0} stroke="#000" strokeWidth={EB} />
            <ErrorBar dataKey="ey" direction="y" width={0} stroke="#000" strokeWidth={EB} />
          </Scatter>
        ))}
        {p.hyp && (
          <Line
            xAxisId="b"
            yAxisId="l"
            data={toLine(p.hyp)}
            dataKey="y"
            type="monotone"
            stroke={RED}
            strokeWidth={3.5}
            dot={false}
            activeDot={false}
            isAnimationActive={false}
          />
        )}
        {p.two && (
          <Line
            xAxisId="b"
            yAxisId="l"
            data={toLine(p.two)}
            dataKey="y"
            type="linear"
            stroke={GREEN}
            strokeWidth={5.5}
            strokeDasharray="11 7"
            dot={false}
            activeDot={false}
            isAnimationActive={false}
          />
        )}
        {p.lin && (
          <Line
            xAxisId="b"
            yAxisId="l"
            data={toLine(p.lin)}
            dataKey="y"
            type="linear"
            stroke={BLUE}
            strokeWidth={5.5}
            strokeDasharray="11 7"
            dot={false}
            activeDot={false}
            isAnimationActive={false}
          />
        )}
      </ComposedChart>
    </div>
  );
}

function LegendBox() {
  const y1 = 23;
  const y2 = 57;
  const txt = { fontFamily: FONT, fontSize: 23.5, fill: "#000" } as const;
  return (
    <svg width={1200} height={95} style={{ position: "absolute", left: 0, top: 0 }}>
      <rect x={298} y={8} width={742} height={77} rx={6} fill="#6b6b6b" />
      <rect x={293} y={3} width={742} height={77} rx={6} fill="#fff" stroke="#000" strokeWidth={1.5} />
      <line x1={302} x2={350} y1={y1} y2={y1} stroke={BLUE} strokeWidth={5.5} strokeDasharray="11 7" />
      <text x={370} y={y1 + 8} {...txt}>Linear</text>
      <line x1={302} x2={350} y1={y2} y2={y2} stroke={RED} strokeWidth={3.5} />
      <text x={370} y={y2 + 8} {...txt}>Hyperbolic</text>
      <line x1={542} x2={589} y1={y1} y2={y1} stroke={GREEN} strokeWidth={5.5} strokeDasharray="11 7" />
      <text x={607} y={y1 + 8} {...txt}>Two-segmented</text>
      <line x1={553} x2={577} y1={y2} y2={y2} stroke="#000" strokeWidth={EB} />
      <line x1={565} x2={565} y1={y2 - 13} y2={y2 + 13} stroke="#000" strokeWidth={EB} />
      <circle cx={565} cy={y2} r={6} fill="#000" />
      <text x={607} y={y2 + 8} {...txt}>This work</text>
      <line x1={851} x2={875} y1={y1} y2={y1} stroke="#000" strokeWidth={EB} />
      <line x1={863} x2={863} y1={y1 - 13} y2={y1 + 13} stroke="#000" strokeWidth={EB} />
      <polygon points={triPoints(863, y1)} fill="#000" />
      <text x={908} y={y1 + 8} {...txt}>Literature</text>
      <line x1={851} x2={875} y1={y2} y2={y2} stroke="#000" strokeWidth={EB} />
      <line x1={863} x2={863} y1={y2 - 13} y2={y2 + 13} stroke="#000" strokeWidth={EB} />
      <polygon points={triPoints(863, y2)} fill={RED} stroke="#000" strokeWidth={1} />
      <text x={908} y={y2 + 8} {...txt}>Thick disk</text>
    </svg>
  );
}

function Labels() {
  return (
    <svg
      width={1200}
      height={1720}
      style={{ position: "absolute", left: 0, top: 0, pointerEvents: "none" }}
    >
      {panels.map((p, i) => (
        <text
          key={p.name}
          x={COL_X[i % 3] + 247}
          y={ROW_Y[Math.floor(i / 3)] + PH - 24}
          fontFamily={FONT}
          fontSize={31}
          fill="#000"
        >
          {p.name}
        </text>
      ))}
      <text x={596} y={1712} textAnchor="middle" fontFamily={FONT} fontSize={32} fill="#000">
        Age (Gyr)
      </text>
      <text
        x={32}
        y={848}
        textAnchor="middle"
        fontFamily={FONT}
        fontSize={32}
        fill="#000"
        transform="rotate(-90 32 848)"
      >
        [X/Fe] (dex)
      </text>
    </svg>
  );
}

export default function App() {
  return (
    <div
      style={{
        position: "absolute",
        left: 0,
        top: 0,
        width: 1200,
        height: 1720,
        background: "#fff",
        fontFamily: FONT,
      }}
    >
      {panels.map((p, i) => (
        <Panel key={p.name} p={p} idx={i} />
      ))}
      <LegendBox />
      <Labels />
    </div>
  );
}
